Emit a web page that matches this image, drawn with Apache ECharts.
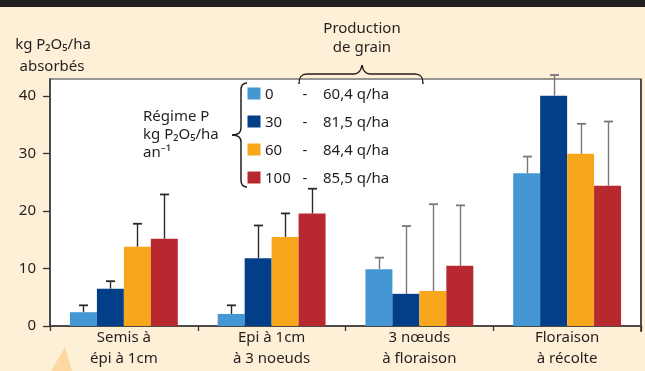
<!DOCTYPE html>
<html>
<head>
<meta charset="utf-8">
<script src="https://cdn.jsdelivr.net/npm/echarts@6/dist/echarts.min.js"></script>
<style>
html,body{margin:0;padding:0;background:#FEF0D7;}
#chart{width:645px;height:371px;}
</style>
</head>
<body>
<div id="chart"></div>
<script>
const categories = ['Semis à\népi à 1cm', 'Epi à 1cm\nà 3 noeuds', '3 nœuds\nà floraison', 'Floraison\nà récolte'];
const regimes = ['0', '30', '60', '100'];
const yields = ['60,4 q/ha', '81,5 q/ha', '84,4 q/ha', '85,5 q/ha'];
const absorbed0 = [2.4, 2.1, 9.9, 26.6];
const absorbed30 = [6.5, 11.8, 5.6, 40.1];
const absorbed60 = [13.8, 15.5, 6.1, 30.0];
const absorbed100 = [15.2, 19.6, 10.5, 24.4];
const errTop0 = [3.6, 3.6, 11.9, 29.5];
const errTop30 = [7.8, 17.5, 17.4, 43.7];
const errTop60 = [17.8, 19.6, 21.2, 35.2];
const errTop100 = [22.9, 23.9, 21.0, 35.6];
const yTicks = [0, 10, 20, 30, 40];

const colors = ['#4597D3', '#033F88', '#F8A61C', '#B7282F'];
const errColors = ['#2a2a2a', '#2a2a2a', '#777777', '#777777'];
const FONT = 'Noto Sans';
const TXT = '#231f20';
const GAP = 0.27;

const values = [absorbed0, absorbed30, absorbed60, absorbed100];
const tops = [errTop0, errTop30, errTop60, errTop100];

const series = [];
values.forEach((v, s) => {
  series.push({
    type: 'bar', name: regimes[s], data: v,
    barGap: '0%', barCategoryGap: (GAP * 100) + '%',
    itemStyle: { color: colors[s] }, z: 2
  });
});
tops.forEach((t, s) => {
  series.push({
    type: 'custom', name: 'err' + s,
    data: t.map((top, i) => [i, values[s][i], top]),
    z: 5, clip: false,
    renderItem: function (params, api) {
      const ci = api.value(0);
      const catW = api.size([1, 0])[0];
      const bw = catW * (1 - GAP) / 4;
      const off = (s - 1.5) * bw;
      const p0 = api.coord([ci, api.value(1)]);
      const p1 = api.coord([ci, api.value(2)]);
      const x = Math.round(p0[0] + off) + 0.5;
      const col = errColors[ci];
      return {
        type: 'group',
        children: [
          { type: 'line', shape: { x1: x, y1: p0[1], x2: x, y2: p1[1] }, style: { stroke: col, lineWidth: 1.4 } },
          { type: 'line', shape: { x1: x - 4.5, y1: p1[1], x2: x + 4.5, y2: p1[1] }, style: { stroke: col, lineWidth: 1.8 } }
        ]
      };
    }
  });
});

const graphics = [];
const braceStyle = { fill: null, stroke: TXT, lineWidth: 1.5 };
function bez(a, c1, c2, b) {
  graphics.push({ type: 'bezierCurve', shape: { x1: a[0], y1: a[1], cpx1: c1[0], cpy1: c1[1], cpx2: c2[0], cpy2: c2[1], x2: b[0], y2: b[1] }, style: braceStyle, z: 10 });
}
function seg(a, b) {
  graphics.push({ type: 'line', shape: { x1: a[0], y1: a[1], x2: b[0], y2: b[1] }, style: braceStyle, z: 10 });
}
function txt(x, y, t, align) {
  graphics.push({ type: 'text', x: x, y: y, style: { text: t, font: '15px "' + FONT + '"', fill: TXT, textAlign: align, textVerticalAlign: 'middle' }, z: 10 });
}
// top dark band
graphics.push({ type: 'rect', shape: { x: 0, y: 0, width: 645, height: 7 }, style: { fill: '#231f20' }, z: 10 });
// right plot border (darker)
graphics.push({ type: 'line', shape: { x1: 641, y1: 79, x2: 641, y2: 332 }, style: { stroke: '#333', lineWidth: 1.5 }, z: 10 });
// y-axis title
txt(53, 45, 'kg P₂O₅/ha', 'center');
txt(52, 67, 'absorbés', 'center');
// Production de grain
txt(362, 29, 'Production', 'center');
txt(362, 48, 'de grain', 'center');
// top brace
bez([299, 84], [299, 77], [301, 74], [307, 74]);
seg([307, 74], [354, 74]);
bez([354, 74], [359, 74], [361, 71], [362, 65]);
bez([362, 65], [363, 71], [365, 74], [370, 74]);
seg([370, 74], [415, 74]);
bez([415, 74], [421, 74], [423, 77], [423, 84]);
// Régime P block
txt(143, 117, 'Régime P', 'left');
txt(143, 135, 'kg P₂O₅/ha', 'left');
txt(143, 153, 'an⁻¹', 'left');
// left brace
bez([247, 83], [243, 83], [241, 85], [241, 90]);
seg([241, 90], [241, 128]);
bez([241, 128], [241, 133], [238, 135], [232, 135]);
bez([232, 135], [238, 135], [241, 137], [241, 142]);
seg([241, 142], [241, 180]);
bez([241, 180], [241, 185], [243, 187], [247, 187]);
// legend rows
regimes.forEach((r, i) => {
  const cy = 93.5 + i * 28;
  graphics.push({ type: 'rect', shape: { x: 247.5, y: cy - 6, width: 13, height: 12 }, style: { fill: colors[i] }, z: 10 });
  txt(265, cy + 1, r, 'left');
  txt(305, cy + 1, '-', 'center');
  txt(323, cy + 1, yields[i], 'left');
});
// callout triangle bottom-left
graphics.push({ type: 'polygon', shape: { points: [[51, 371], [65, 347], [72, 371]] }, style: { fill: '#FDD8A0' }, z: 1 });

const chart = echarts.init(document.getElementById('chart'), null, { renderer: 'canvas' });
chart.setOption({
  backgroundColor: '#FEF0D7',
  animation: false,
  textStyle: { fontFamily: FONT },
  grid: { left: 50, right: 4, top: 79, bottom: 45, show: true, backgroundColor: '#ffffff', borderColor: '#777777', borderWidth: 1.5 },
  xAxis: {
    type: 'category', data: categories, boundaryGap: true,
    axisLine: { lineStyle: { color: '#333', width: 1.5 } },
    axisTick: { show: true, length: 5, lineStyle: { color: '#333', width: 1.3 } },
    axisLabel: { fontSize: 15, color: TXT, lineHeight: 21, margin: 1, fontFamily: FONT, interval: 0 }
  },
  yAxis: {
    type: 'value', min: 0, max: 43, interval: 10,
    axisLine: { show: true, lineStyle: { color: '#333', width: 1.5 } },
    axisTick: { show: true, length: 7, inside: false, customValues: yTicks, lineStyle: { color: '#333', width: 1.3 } },
    axisLabel: { fontSize: 15, color: TXT, margin: 14, fontFamily: FONT, customValues: yTicks },
    splitLine: { show: false }
  },
  series: series,
  graphic: graphics
});
</script>
</body>
</html>
